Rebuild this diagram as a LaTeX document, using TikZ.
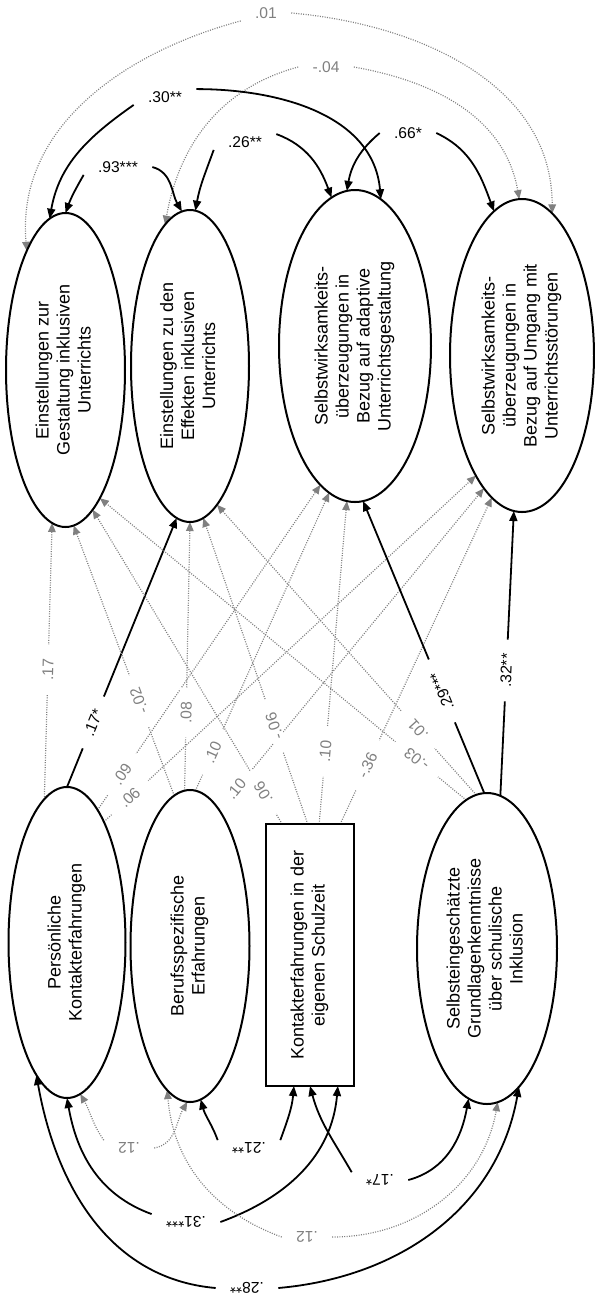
\documentclass[tikz,border=0pt]{standalone}
\usepackage{fontspec}
\setmainfont{Liberation Sans}
\usetikzlibrary{shapes.geometric,arrows.meta,backgrounds}
\definecolor{nsgray}{gray}{0.5}
\newcommand{\vlines}[1]{\rotatebox{90}{\begin{tabular}{@{}c@{}}#1\end{tabular}}}
\newcommand{\upsd}[1]{\rotatebox[origin=c]{180}{#1}}

\begin{document}
\begin{tikzpicture}[x=0.5pt,y=-0.5pt,
    latent/.style={ellipse,draw,line width=1pt,inner sep=0pt,outer sep=0pt,font=\fontsize{9}{10.5}\selectfont},
    manifest/.style={rectangle,draw,line width=1.4pt,inner sep=0pt,outer sep=0pt,font=\fontsize{9}{10.5}\selectfont},
    sig/.style={-{Triangle[length=5pt,width=4pt]},line width=0.9pt,black},
    ns/.style={-{Triangle[length=4.5pt,width=3.8pt]},line width=0.6pt,nsgray,dash pattern=on 0.5pt off 0.7pt},
    lab/.style={font=\fontsize{7.8}{9}\selectfont,inner xsep=7pt,inner ysep=1pt},
    glab/.style={lab,text=nsgray},
    pl/.style={sloped,allow upside down,fill=white,font=\fontsize{7.8}{9}\selectfont,inner xsep=7pt,inner ysep=0.5pt}]
    \useasboundingbox (0,0) rectangle (595,1298);

    % Outcome nodes
    \node[latent,minimum width=59.5pt,minimum height=157pt] (E1) at (65.5,370) {\vlines{Einstellungen zur\\Gestaltung inklusiven\\Unterrichts}};
    \node[latent,minimum width=59pt,minimum height=156pt] (E2) at (190,366) {\vlines{Einstellungen zu den\\Effekten inklusiven\\Unterrichts}};
    \node[latent,minimum width=76pt,minimum height=156pt] (E3) at (355,346) {\vlines{Selbstwirksamkeits-\\überzeugungen in\\Bezug auf adaptive\\Unterrichtsgestaltung}};
    \node[latent,minimum width=72pt,minimum height=156.5pt] (E4) at (522,355.5) {\vlines{Selbstwirksamkeits-\\überzeugungen in\\Bezug auf Umgang mit\\Unterrichtsstörungen}};

    % Predictor nodes
    \node[latent,minimum width=58.5pt,minimum height=155.5pt] (P1) at (67,942.5) {\vlines{Persönliche\\Kontakterfahrungen}};
    \node[latent,minimum width=59.5pt,minimum height=156pt] (P2) at (190,946) {\vlines{Berufsspezifische\\Erfahrungen}};
    \node[manifest,minimum width=44pt,minimum height=131pt] (R) at (310,955) {\vlines{Kontakterfahrungen in der\\eigenen Schulzeit}};
    \node[latent,minimum width=70pt,minimum height=155.5pt] (P4) at (487,948.5) {\vlines{Selbsteingeschätzte\\Grundlagenkenntnisse\\über schulische\\Inklusion}};

    \begin{scope}[on background layer]
    % Correlations of the outcomes
    \node[glab] (c01) at (266,13) {.01};
    \draw[ns] (c01.south west) to[out=195,in=95] (E1.108);
    \draw[ns] (c01.east) to[out=-5,in=90] (E4.78);
    \node[glab] (c04) at (326,67) {-.04};
    \draw[ns] (c04.west) to[out=195,in=80] (E2.100);
    \draw[ns] (c04.east) to[out=-10,in=100] (E4.91);
    \node[lab] (c30) at (165,97) {.30**};
    \draw[sig] (c30.south west) to[out=215,in=80] (E1.96);
    \draw[sig] (c30.north east) to[out=0,in=95] (E3.80);
    \node[lab] (c93) at (118,167) {.93***};
    \draw[sig] (c93.south west) to[out=240,in=70] (E1.90);
    \draw[sig] (c93.east) to[out=-15,in=120] (E2.93);
    \node[lab] (c26) at (245,142) {.26**};
    \draw[sig] (c26.south west) to[out=250,in=80] (E2.88);
    \draw[sig] (c26.north east) to[out=-20,in=110] (E3.99);
    \node[lab] (c66) at (408,133) {.66*};
    \draw[sig] (c66.west) to[out=220,in=80] (E3.93);
    \draw[sig] (c66.east) to[out=-25,in=110] (E4.101);

    % Paths from the predictors
    \draw[ns] (P1.99) -- node[pl,pos=.47] {.17} (E1.265);
    \draw[sig] (P1.90) -- node[pl,pos=.24] {.17*} (E2.265);
    \draw[ns] (P1.77) -- node[pl,pos=.11] {.09} (E3.256);
    \draw[ns] (P1.73) -- node[pl,pos=.07] {.06} (E4.249);
    \draw[ns] (P2.96) -- node[pl,pos=.35] {-.02} (E1.273);
    \draw[ns] (P2.92) -- node[pl,pos=.29] {.08} (E2.270);
    \draw[ns] (P2.88) -- node[pl,pos=.13] {.10} (E3.260);
    \draw[ns] (P2.78) -- node[pl,pos=.065] {.10} (E4.254);
    \draw[ns] (R.102) -- node[pl,pos=.1] {.06} (E1.281);
    \draw[ns] (R.91) -- node[pl,pos=.32] {-.06} (E2.275);
    \draw[ns] (R.86) -- node[pl,pos=.225] {.10} (E3.267);
    \draw[ns] (R.77) -- node[pl,pos=.18] {-.36} (E4.258);
    \draw[ns] (P4.98) -- node[pl,pos=.135] {-.03} (E1.285);
    \draw[ns] (P4.94) -- node[pl,pos=.225] {.01} (E2.281);
    \draw[sig] (P4.91) -- node[pl,pos=.35] {.29***} (E3.273);
    \draw[sig] (P4.85) -- node[pl,pos=.44] {.32**} (E4.267);

    % Correlations of the predictors
    \node[glab] (d12a) at (129,1148) {\upsd{.12}};
    \draw[ns] (d12a.north west) to[out=125,in=-60] (P1.275);
    \draw[ns] (d12a.east) to[out=10,in=-120] (P2.269);
    \node[lab] (d21) at (249,1148) {\upsd{.21**}};
    \draw[sig] (d21.north west) to[out=110,in=-75] (P2.274);
    \draw[sig] (d21.north east) to[out=70,in=-95] (R.263);
    \node[lab] (d31) at (186,1222) {\upsd{.31***}};
    \draw[sig] (d31.north west) to[out=160,in=-80] (P1.270);
    \draw[sig] (d31.east) to[out=20,in=-95] (R.282);
    \node[lab] (d17) at (380,1180) {\upsd{.17*}};
    \draw[sig] (d17.north west) to[out=120,in=-75] (R.270);
    \draw[sig] (d17.east) to[out=15,in=-100] (P4.263);
    \node[glab] (d12b) at (307,1237) {\upsd{.12}};
    \draw[ns] (d12b.west) to[out=160,in=-85] (P2.261);
    \draw[ns] (d12b.east) to[out=0,in=-100] (P4.274);
    \node[lab] (d28) at (247,1288) {\upsd{.28**}};
    \draw[sig] (d28.west) to[out=175,in=-80] (P1.257);
    \draw[sig] (d28.east) to[out=5,in=-100] (P4.283);
    \end{scope}
\end{tikzpicture}
\end{document}
